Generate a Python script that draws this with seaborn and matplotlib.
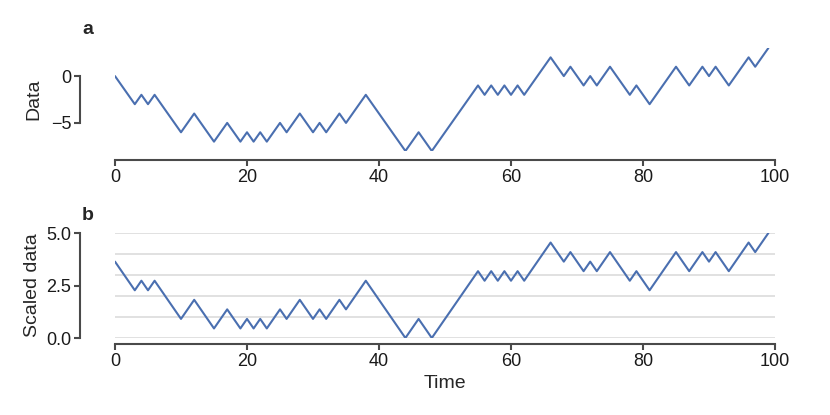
import numpy as np
import pandas as pd
import matplotlib
matplotlib.use("Agg")
import matplotlib.pyplot as plt
import seaborn as sns
from matplotlib.ticker import MultipleLocator

# random walk, one value per time step
time = list(range(100))
data = [0, -1, -2, -3, -2, -3, -2, -3, -4, -5,
        -6, -5, -4, -5, -6, -7, -6, -5, -6, -7,
        -6, -7, -6, -7, -6, -5, -6, -5, -4, -5,
        -6, -5, -6, -5, -4, -5, -4, -3, -2, -3,
        -4, -5, -6, -7, -8, -7, -6, -7, -8, -7,
        -6, -5, -4, -3, -2, -1, -2, -1, -2, -1,
        -2, -1, -2, -1, 0, 1, 2, 1, 0, 1,
        0, -1, 0, -1, 0, 1, 0, -1, -2, -1,
        -2, -3, -2, -1, 0, 1, 0, -1, 0, 1,
        0, 1, 0, -1, 0, 1, 2, 1, 2, 3]

df = pd.DataFrame({"Time": time, "Data": data})
# min-max scaled to 0..5
df["Scaled data"] = (df["Data"] - df["Data"].min()) / (df["Data"].max() - df["Data"].min()) * 5

sns.set_theme(style="ticks")
plt.rcParams['font.family'] = ['Liberation Sans', 'DejaVu Sans']
plt.rcParams['font.size'] = 13

line_color = "#4a6fb0"
spine_color = "#4a4a4a"

fig = plt.figure(figsize=(8.3, 4.15), dpi=100)
ax1 = fig.add_axes([115/830, 1 - 151/415, 660/830, 103/415])
ax2 = fig.add_axes([115/830, 1 - 338/415, 660/830, 105/415])

sns.lineplot(data=df, x="Time", y="Data", ax=ax1, color=line_color, lw=1.5)
sns.lineplot(data=df, x="Time", y="Scaled data", ax=ax2, color=line_color, lw=1.5)

for ax in (ax1, ax2):
    ax.set_xlim(0, 100)
    ax.set_xticks([0, 20, 40, 60, 80, 100])
    for s in ("top", "right"):
        ax.spines[s].set_visible(False)
    for s in ("left", "bottom"):
        ax.spines[s].set_color(spine_color)
        ax.spines[s].set_linewidth(1.5)
    ax.spines["left"].set_position(("outward", 25))
    ax.spines["bottom"].set_bounds(0, 100)
    ax.tick_params(axis="both", which="major", length=4, width=1.5, color=spine_color,
                   labelsize=13, labelcolor="#1a1a1a", pad=2.5)
    ax.patch.set_alpha(0)

# panel a
ax1.set_ylim(-8, 3)
ax1.set_yticks([0, -5])
ax1.set_yticklabels(["0", "\u22125"])
ax1.spines["left"].set_bounds(-5, 0)
ax1.spines["bottom"].set_position(("outward", 6.5))
ax1.set_xlabel("")
ax1.set_ylabel("Data", fontsize=14, labelpad=6)

# panel b
ax2.set_ylim(0, 5)
ax2.set_yticks([0, 2.5, 5.0])
ax2.set_yticklabels(["0.0", "2.5", "5.0"])
ax2.yaxis.set_minor_locator(MultipleLocator(1))
ax2.yaxis.remove_overlapping_locs = False
ax2.tick_params(axis="y", which="minor", length=0)
ax2.grid(True, which="minor", axis="y", color="#dcdcdc", lw=1.2)
ax2.set_axisbelow(True)
ax2.spines["left"].set_bounds(0, 5)
ax2.spines["bottom"].set_position(("outward", 4))
ax2.set_xlabel("Time", fontsize=14, labelpad=4)
ax2.set_ylabel("Scaled data", fontsize=14, labelpad=4)

fig.text(88/830, 1 - 30/415, "a", fontsize=14, fontweight="bold", ha="center", va="center")
fig.text(88/830, 1 - 215/415, "b", fontsize=14, fontweight="bold", ha="center", va="center")

fig.savefig("out.png", dpi=100)
